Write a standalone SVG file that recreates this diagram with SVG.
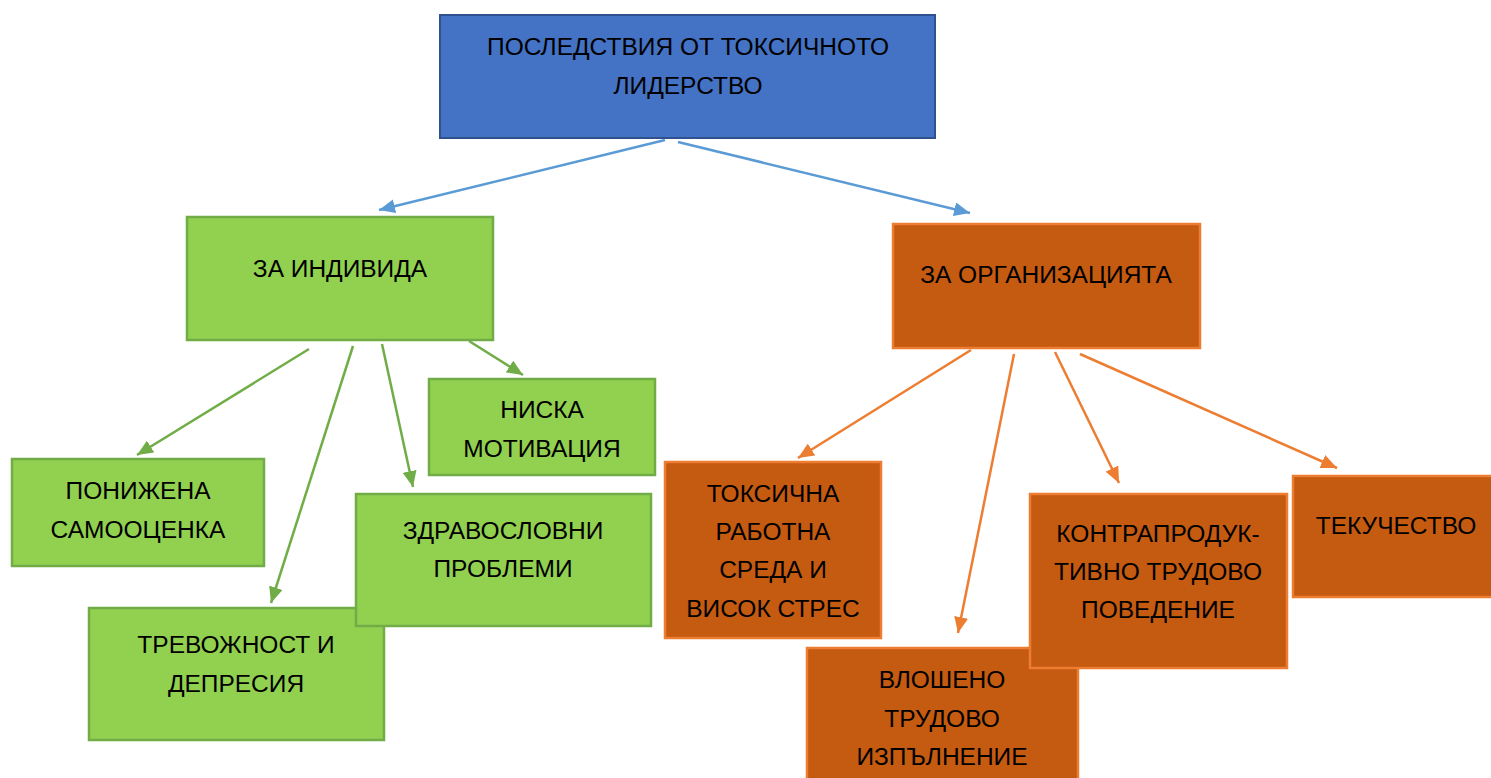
<svg xmlns="http://www.w3.org/2000/svg" width="1491" height="778" viewBox="0 0 1491 778">
<style>
text{font-family:"Liberation Sans",Arial,sans-serif;font-size:24.5px;fill:#000;text-anchor:middle}
.blue{fill:#4472C4;stroke:#2F528F;stroke-width:2}
.green{fill:#92D050;stroke:#70AD47;stroke-width:2.5}
.orange{fill:#C55A11;stroke:#ED7D31;stroke-width:2.5}
.cb{stroke:#5B9BD5;stroke-width:2.5;fill:none}
.cg{stroke:#70AD47;stroke-width:2.5;fill:none}
.co{stroke:#ED7D31;stroke-width:2.5;fill:none}
</style>
<defs>
<marker id="ab" viewBox="0 0 16 14" refX="16" refY="7" markerWidth="16" markerHeight="14" markerUnits="userSpaceOnUse" orient="auto"><path d="M0,0 L16,7 L0,14 z" fill="#5B9BD5"/></marker>
<marker id="ag" viewBox="0 0 16 14" refX="16" refY="7" markerWidth="16" markerHeight="14" markerUnits="userSpaceOnUse" orient="auto"><path d="M0,0 L16,7 L0,14 z" fill="#70AD47"/></marker>
<marker id="ao" viewBox="0 0 16 14" refX="16" refY="7" markerWidth="16" markerHeight="14" markerUnits="userSpaceOnUse" orient="auto"><path d="M0,0 L16,7 L0,14 z" fill="#ED7D31"/></marker>
</defs>
<rect width="1491" height="778" fill="#fff"/>
<g id="connectors">
<line class="cb" x1="665" y1="140" x2="379" y2="210" marker-end="url(#ab)"/>
<line class="cb" x1="678" y1="142" x2="970" y2="213" marker-end="url(#ab)"/>
<line class="cg" x1="309" y1="349" x2="137" y2="455" marker-end="url(#ag)"/>
<line class="cg" x1="353" y1="346" x2="271" y2="603" marker-end="url(#ag)"/>
<line class="cg" x1="382" y1="344" x2="413" y2="487" marker-end="url(#ag)"/>
<line class="cg" x1="469" y1="341" x2="523" y2="375" marker-end="url(#ag)"/>
<line class="co" x1="971" y1="350" x2="798" y2="458" marker-end="url(#ao)"/>
<line class="co" x1="1014" y1="354" x2="958" y2="633" marker-end="url(#ao)"/>
<line class="co" x1="1055" y1="352" x2="1119" y2="483" marker-end="url(#ao)"/>
<line class="co" x1="1080" y1="354" x2="1337" y2="468" marker-end="url(#ao)"/>
</g>
<g id="n-top"><rect class="blue" x="440" y="15" width="495" height="123"/>
<text x="688" y="55">ПОСЛЕДСТВИЯ ОТ ТОКСИЧНОТО</text><text x="688" y="94">ЛИДЕРСТВО</text></g>
<g id="n-individ"><rect class="green" x="187" y="217" width="306" height="123"/>
<text x="340" y="277">ЗА ИНДИВИДА</text></g>
<g id="n-niska"><rect class="green" x="429" y="379" width="226" height="96"/>
<text x="542" y="418">НИСКА</text><text x="542" y="457">МОТИВАЦИЯ</text></g>
<g id="n-ponijena"><rect class="green" x="12" y="459" width="252" height="107"/>
<text x="138" y="499">ПОНИЖЕНА</text><text x="138" y="538">САМООЦЕНКА</text></g>
<g id="n-trevojnost"><rect class="green" x="89" y="608" width="295" height="132"/>
<text x="236" y="653">ТРЕВОЖНОСТ И</text><text x="236" y="692">ДЕПРЕСИЯ</text></g>
<g id="n-zdrav"><rect class="green" x="356" y="494" width="295" height="132"/>
<text x="503" y="539">ЗДРАВОСЛОВНИ</text><text x="503" y="577">ПРОБЛЕМИ</text></g>
<g id="n-org"><rect class="orange" x="893" y="224" width="307" height="124"/>
<text x="1046" y="283">ЗА ОРГАНИЗАЦИЯТА</text></g>
<g id="n-toksichna"><rect class="orange" x="665" y="462" width="216" height="176"/>
<text x="773" y="502">ТОКСИЧНА</text><text x="773" y="540">РАБОТНА</text><text x="773" y="578">СРЕДА И</text><text x="773" y="617">ВИСОК СТРЕС</text></g>
<g id="n-vlosheno"><rect class="orange" x="807" y="648" width="271" height="140"/>
<text x="942" y="688">ВЛОШЕНО</text><text x="942" y="727">ТРУДОВО</text><text x="942" y="765">ИЗПЪЛНЕНИЕ</text></g>
<g id="n-kontra"><rect class="orange" x="1030" y="494" width="257" height="174"/>
<text x="1158" y="542">КОНТРАПРОДУК-</text><text x="1158" y="580">ТИВНО ТРУДОВО</text><text x="1158" y="618">ПОВЕДЕНИЕ</text></g>
<g id="n-tekuchestvo"><rect class="orange" x="1293" y="476" width="206" height="121"/>
<text x="1396" y="534">ТЕКУЧЕСТВО</text></g>
</svg>
